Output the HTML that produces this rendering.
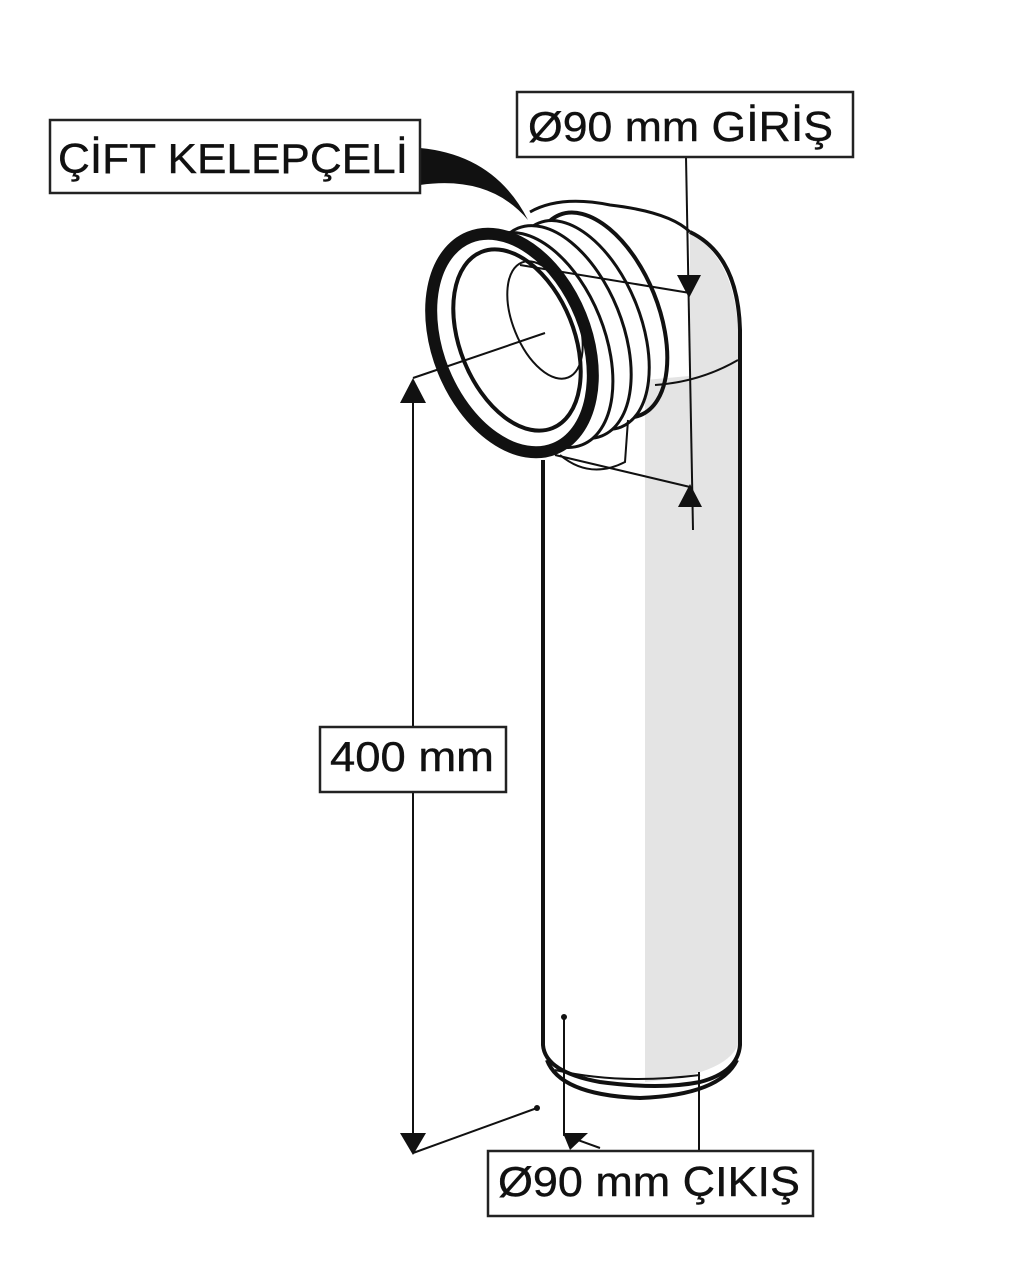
<!DOCTYPE html>
<html><head><meta charset="utf-8"><style>
html,body{margin:0;padding:0;background:#fff;width:1024px;height:1285px;overflow:hidden}
svg{display:block}
text{font-family:"Liberation Sans",sans-serif;font-size:42px;fill:#111;stroke:#111;stroke-width:0.4}
</style></head><body>
<svg width="1024" height="1285" viewBox="0 0 1024 1285" xmlns="http://www.w3.org/2000/svg">
<path d="M645 380 L700 375 Q725 370 738 350 L738 1045 Q725 1075 645 1082 Z" fill="#e4e4e4"/>
<path d="M690 232 Q735 260 738 330 L738 350 Q725 372 690 378 Z" fill="#e4e4e4"/>
<path d="M543 460 L543 1045 Q545 1072 600 1082 Q660 1090 700 1082 Q738 1072 740 1045 L740 330 Q738 255 690 232" fill="none" stroke="#111" stroke-width="4"/>
<path d="M547 1060 Q560 1095 640 1098 Q720 1095 737 1060" fill="none" stroke="#111" stroke-width="4"/>
<path d="M555 1070 Q620 1085 700 1075" fill="none" stroke="#111" stroke-width="2"/>
<path d="M655 385 Q700 382 738 360" fill="none" stroke="#111" stroke-width="2"/>
<path d="M530 212 Q560 195 610 205 Q670 212 690 232" fill="none" stroke="#111" stroke-width="3"/>
<g fill="none" stroke="#111">
<ellipse cx="600" cy="315" rx="58" ry="108" transform="rotate(-22 600 315)" stroke-width="4"/>
<ellipse cx="580" cy="325" rx="60" ry="110" transform="rotate(-22 580 325)" stroke-width="3" fill="#fff"/>
<ellipse cx="560" cy="332" rx="62" ry="112" transform="rotate(-22 560 332)" stroke-width="3" fill="#fff"/>
<ellipse cx="540" cy="340" rx="64" ry="113" transform="rotate(-22 540 340)" stroke-width="3" fill="#fff"/>
<path d="M560 455 Q590 480 625 462 L628 420" stroke-width="2"/>
<ellipse cx="512" cy="343" rx="74" ry="114" transform="rotate(-22 512 343)" stroke-width="12" fill="#fff"/>
<ellipse cx="517" cy="340" rx="57" ry="95" transform="rotate(-22 517 340)" stroke-width="4"/>
<ellipse cx="545" cy="320" rx="32" ry="62" transform="rotate(-22 545 320)" stroke-width="2"/>
</g>
<path d="M420 148 Q495 155 528 220 Q490 175 420 185 Z" fill="#111"/>
<g stroke="#111" stroke-width="2" fill="none">
<line x1="413" y1="395" x2="413" y2="1140"/>
<line x1="413" y1="378" x2="545" y2="333"/>
<line x1="413" y1="1153" x2="537" y2="1108"/>
<line x1="686" y1="157" x2="693" y2="530"/>
<line x1="520" y1="265" x2="690" y2="293"/>
<line x1="555" y1="455" x2="690" y2="487"/>
<polyline points="564,1017 564,1135 600,1148"/>
<line x1="699" y1="1072" x2="699" y2="1151"/>
</g>
<g fill="#111">
<polygon points="400,403 426,403 413,378"/>
<polygon points="400,1133 426,1133 413,1155"/>
<polygon points="677,275 701,275 689,298"/>
<polygon points="678,507 702,507 690,484"/>
<polygon points="563,1133 588,1133 570,1150"/>
<circle cx="564" cy="1017" r="3"/><circle cx="537" cy="1108" r="3"/>
</g>
<g fill="#fff" stroke="#222" stroke-width="2.5">
<rect x="50" y="120" width="370" height="73"/>
<rect x="517" y="92" width="336" height="65"/>
<rect x="320" y="727" width="186" height="65"/>
<rect x="488" y="1151" width="325" height="65"/>
</g>
<text x="58" y="173" textLength="350" lengthAdjust="spacingAndGlyphs">ÇİFT KELEPÇELİ</text>
<text x="528" y="141" textLength="305" lengthAdjust="spacingAndGlyphs">Ø90 mm GİRİŞ</text>
<text x="330" y="771" textLength="164" lengthAdjust="spacingAndGlyphs">400 mm</text>
<text x="498" y="1196" textLength="302" lengthAdjust="spacingAndGlyphs">Ø90 mm ÇIKIŞ</text>
</svg>
</body></html>
